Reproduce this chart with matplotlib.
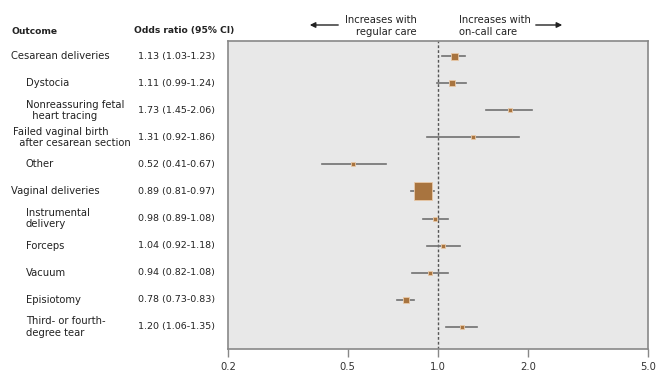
import matplotlib.pyplot as plt
from matplotlib.patches import FancyArrowPatch
import numpy as np

# --- datos ---
outcomes = ["Cesarean deliveries", "Dystocia", "Nonreassuring fetal\n  heart tracing",
            "Failed vaginal birth\n  after cesarean section", "Other", "Vaginal deliveries",
            "Instrumental\ndelivery", "Forceps", "Vacuum", "Episiotomy",
            "Third- or fourth-\ndegree tear"]
indent = [0, 1, 1, 0.15, 1, 0, 1, 1, 1, 1, 1]
odds = [1.13, 1.11, 1.73, 1.31, 0.52, 0.89, 0.98, 1.04, 0.94, 0.78, 1.20]
ci_low = [1.03, 0.99, 1.45, 0.92, 0.41, 0.81, 0.89, 0.92, 0.82, 0.73, 1.06]
ci_high = [1.23, 1.24, 2.06, 1.86, 0.67, 0.97, 1.08, 1.18, 1.08, 0.83, 1.35]
box_size = [7, 6, 4, 3.5, 3.5, 18, 5, 3.5, 4, 6.5, 3.5]   # px
ticks = [0.2, 0.5, 1.0, 2.0, 5.0]

color_box = '#A8743F'
color_line = '#707070'
color_txt = '#222222'

fig = plt.figure(figsize=(6.66, 3.81), dpi=100)
ax = fig.add_axes([228/666, 1 - 349/381, 420/666, 308/381])
ax.set_facecolor('#E8E8E8')

y = np.arange(len(odds))
for i in range(len(odds)):
    ax.plot([ci_low[i], ci_high[i]], [y[i], y[i]], color=color_line, lw=1.2, zorder=2)
    ax.plot(odds[i], y[i], marker='s', ms=box_size[i] * 0.72, color=color_box,
            mec='#E9C9A8', mew=0.6, zorder=3)

ax.axvline(1.0, color='#555555', ls=(0, (2, 1.5)), lw=1.0, zorder=1)

ax.set_xscale('log')
ax.set_xlim(0.2, 5.0)
ax.set_ylim(10.81, -0.55)
ax.set_xticks(ticks)
ax.set_xticklabels([f"{t:.1f}" for t in ticks], fontsize=7.2, color='#333333')
ax.xaxis.set_minor_locator(plt.NullLocator())
ax.set_yticks([])
ax.tick_params(axis='x', length=6, width=1, color='#888888', pad=3)
for s in ax.spines.values():
    s.set_color('#888888')
    s.set_linewidth(1.2)

# --- textos a la izquierda ---
fs = 7.2
fsb = 6.6
def fy(py):
    return 1 - py / 381

fig.text(12/666, fy(31), "Outcome", fontsize=fsb, fontweight='bold', va='center', color=color_txt)
fig.text(134/666, fy(31), "Odds ratio (95% CI)", fontsize=fsb, fontweight='bold', va='center', color=color_txt)

for i in range(len(odds)):
    py = 56 + i * 27.1
    fig.text((11 + indent[i] * 15)/666, fy(py), outcomes[i], fontsize=fs, va='center',
             color=color_txt, linespacing=1.15)
    fig.text(215/666, fy(py), f"{odds[i]:.2f} ({ci_low[i]:.2f}-{ci_high[i]:.2f})",
             fontsize=fs * 0.95, va='center', ha='right', color=color_txt)

# --- encabezado con flechas ---
fig.text(417/666, fy(26), "Increases with\nregular care", fontsize=fs, ha='right', va='center',
         color=color_txt, linespacing=1.15)
fig.text(459/666, fy(26), "Increases with\non-call care", fontsize=fs, ha='left', va='center',
         color=color_txt, linespacing=1.15)
fig.add_artist(FancyArrowPatch((341/666, fy(25)), (307/666, fy(25)), transform=fig.transFigure,
                               arrowstyle='-|>', mutation_scale=8, color=color_txt, lw=1))
fig.add_artist(FancyArrowPatch((533/666, fy(25)), (565/666, fy(25)), transform=fig.transFigure,
                               arrowstyle='-|>', mutation_scale=8, color=color_txt, lw=1))

plt.savefig("out.png", dpi=100)
